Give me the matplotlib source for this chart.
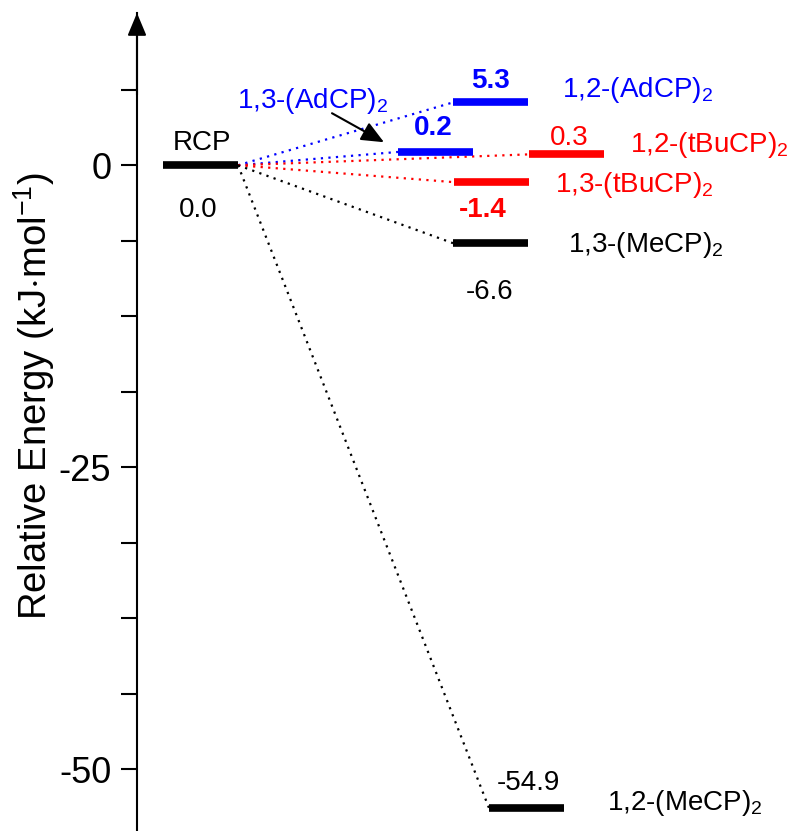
import matplotlib
matplotlib.use('Agg')
import matplotlib.pyplot as plt
from matplotlib.ticker import FixedLocator

plt.rcParams['font.family'] = ['Liberation Sans', 'DejaVu Sans']
plt.rcParams['mathtext.fontset'] = 'custom'
plt.rcParams['mathtext.rm'] = 'Liberation Sans'
plt.rcParams['mathtext.it'] = 'Liberation Sans'
plt.rcParams['axes.unicode_minus'] = False

# level data
species = ['RCP', '1,2-(AdCP)$_2$', '1,3-(AdCP)$_2$', '1,2-(tBuCP)$_2$',
           '1,3-(tBuCP)$_2$', '1,3-(MeCP)$_2$', '1,2-(MeCP)$_2$']
energies = [0.0, 5.3, 0.2, 0.3, -1.4, -6.6, -54.9]
# where each level is drawn on the energy axis
drawn_at = [0.0, 5.2, 1.1, 0.9, -1.4, -6.45, -53.2]
colors = ['black', 'blue', 'blue', 'red', 'red', 'black', 'black']
bold_value = [False, True, True, False, True, False, False]

major_ticks = [0, -25, -50]
minor_ticks = [6.25, -6.25, -12.5, -18.75, -31.25, -37.5, -43.75]

# layout: bar start x (axis runs in pixel-like units), bar length
bar_x = [163, 453, 398, 529, 454, 453, 489]
bar_len = 75

fig = plt.figure(figsize=(7.95, 8.31), dpi=100)
ax = fig.add_axes([137 / 795, 0, 1 - 137 / 795, 1 - 13 / 831])
ax.set_xlim(137, 795)
ax.set_ylim(-55.1, 12.6)

def ypx(p):
    # convert a pixel row of the original picture to energy units
    return (165 - p) / 12.08

# dotted connectors from RCP
x0 = bar_x[0] + bar_len
for i in range(1, len(species)):
    ax.plot([x0, bar_x[i]], [drawn_at[0], drawn_at[i]], color=colors[i],
            lw=1.6, linestyle=(0, (1, 2.4)), zorder=1)

# levels
for i in range(len(species)):
    ax.hlines(drawn_at[i], bar_x[i], bar_x[i] + bar_len, color=colors[i],
              lw=5.5, zorder=2)

fs = 20
# value labels: (center x, baseline px)
value_pos = [(198, 217), (491, 88), (433, 135), (569, 145),
             (483, 217), (490, 299), (528, 790)]
for i in range(len(species)):
    ax.text(value_pos[i][0], ypx(value_pos[i][1]), '%.1f' % energies[i],
            color=colors[i], fontsize=fs, ha='center', va='baseline',
            fontweight='bold' if bold_value[i] else 'normal')

# name labels: (x, baseline px, ha)
name_pos = [(202, 150, 'center'), (562, 97, 'left'), (237, 108, 'left'),
            (630, 152, 'left'), (555, 192, 'left'), (568, 252, 'left'),
            (607, 810, 'left')]
for i in range(len(species)):
    ax.text(name_pos[i][0], ypx(name_pos[i][1]), species[i], color=colors[i],
            fontsize=fs, ha=name_pos[i][2], va='baseline')

# arrow pointing at the 1,3-(AdCP)2 level
ax.annotate('', xy=(384, ypx(142)), xytext=(332, ypx(113)),
            arrowprops=dict(arrowstyle='-|>,head_length=0.55,head_width=0.24',
                            color='black', lw=1.5, mutation_scale=25,
                            shrinkA=0, shrinkB=0))

# axis styling
for s in ['top', 'right', 'bottom']:
    ax.spines[s].set_visible(False)
ax.spines['left'].set_linewidth(1.5)
ax.set_xticks([])
ax.yaxis.set_major_locator(FixedLocator(major_ticks))
ax.yaxis.set_minor_locator(FixedLocator(minor_ticks))
ax.tick_params(axis='y', which='both', direction='out', length=11.5,
               width=1.5, pad=7, labelsize=26)
ax.annotate('', xy=(0, 1.0), xycoords='axes fraction', xytext=(0, 0.9),
            arrowprops=dict(arrowstyle='-|>,head_length=0.55,head_width=0.23',
                            color='black', lw=1.5, mutation_scale=25,
                            shrinkA=0, shrinkB=0))

fig.text(34 / 795, 1 - 396 / 831, 'Relative Energy (kJ$\\cdot$mol$^{-1}$)',
         rotation=90, ha='center', va='center', fontsize=27.5)

fig.savefig('out.png', dpi=100)
